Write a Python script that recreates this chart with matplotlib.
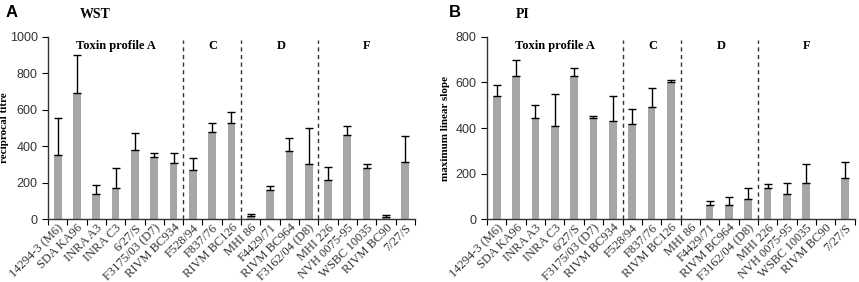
import numpy as np
import matplotlib
matplotlib.use("Agg")
import matplotlib.pyplot as plt

strains = ["14294-3 (M6)", "SDA KA96", "INRA A3", "INRA C3", "6/27/S", "F3175/03 (D7)",
           "RIVM BC934", "F528/94", "F837/76", "RIVM BC126", "MHI 86", "F4429/71",
           "RIVM BC964", "F3162/04 (D8)", "MHI 226", "NVH 0075-95", "WSBC 10035",
           "RIVM BC90", "7/27/S"]

wst_mean = [350, 695, 140, 172, 378, 340, 310, 272, 478, 528, 15, 160, 372, 300, 215, 460, 283, 12, 315]
wst_err = [205, 205, 48, 106, 94, 25, 55, 61, 49, 62, 13, 20, 73, 200, 73, 52, 20, 10, 140]

pi_mean = [542, 627, 442, 410, 627, 442, 433, 419, 494, 600, 0, 63, 63, 87, 136, 111, 160, 0, 182]
pi_err = [45, 70, 57, 138, 38, 12, 109, 66, 80, 12, 0, 18, 33, 49, 19, 49, 81, 0, 68]

group_names = ["Toxin profile A", "C", "D", "F"]
group_centres = [3.0, 8.05, 11.6, 16.0]
group_breaks = [6.5, 9.5, 13.5]

serif = "Liberation Serif"
sans = "Liberation Sans"
bar_col = "#a6a6a6"

fig = plt.figure(figsize=(8.59, 2.82), dpi=100)
ax_a = fig.add_axes([0.0559, 0.223, 0.4271, 0.646])
ax_b = fig.add_axes([0.567, 0.223, 0.428, 0.646])


def draw_panel(ax, means, errs, ymax, ystep, ylabel, label_x):
    x = np.arange(len(strains))
    means = np.array(means, dtype=float)
    errs = np.array(errs, dtype=float)
    ax.bar(x, means, width=0.4, color=bar_col, zorder=2)
    has = errs > 0
    ax.errorbar(x[has], means[has], yerr=[np.zeros(has.sum()), errs[has]], fmt="none",
                ecolor="black", elinewidth=1.0, capsize=3, capthick=1.0, zorder=3)
    ax.set_xlim(-0.5, len(strains) - 0.5)
    ax.set_ylim(0, ymax)
    ax.set_yticks(np.arange(0, ymax + 1, ystep))
    ax.set_xticks(np.arange(-0.5, len(strains) + 0.5, 1), minor=False)
    ax.set_xticklabels([])
    ax.set_xticks(x, minor=True)
    ax.set_xticklabels(strains, minor=True, rotation=45, ha="right",
                       rotation_mode="anchor", fontsize=9, family=serif, color="#333333")
    ax.tick_params(axis="x", which="minor", length=0, pad=2)
    ax.tick_params(axis="x", which="major", length=4, direction="out")
    ax.tick_params(axis="y", length=4, direction="out", labelsize=9, labelcolor="#333333")
    for lab in ax.get_yticklabels():
        lab.set_family(sans)
    for s in ["top", "right"]:
        ax.spines[s].set_visible(False)
    for s in ["left", "bottom"]:
        ax.spines[s].set_linewidth(1.0)
        ax.spines[s].set_color("#333333")
    for b in group_breaks:
        ax.plot([b, b], [0, ymax * 0.985], ls=(0, (3, 2.5)), color="#333333", lw=1.0,
                zorder=1, clip_on=False)
    for name, c in zip(group_names, group_centres):
        ax.text(c, ymax * 0.985, name, ha="center", va="top", fontsize=9,
                family=serif, fontweight="bold")
    ax.set_ylabel(ylabel, fontsize=8, family=serif, fontweight="bold")
    ax.yaxis.set_label_coords(label_x, 0.5)


draw_panel(ax_a, wst_mean, wst_err, 1000, 200, "reciprocal titre", -0.105)
draw_panel(ax_b, pi_mean, pi_err, 800, 200, "maximum linear slope", -0.1)

fig.text(0.007, 0.955, "A", fontsize=12, fontweight="bold", family=sans, va="center")
fig.text(0.093, 0.95, "WST", fontsize=10, fontweight="bold", family=serif, va="center")
fig.text(0.523, 0.955, "B", fontsize=12, fontweight="bold", family=sans, va="center")
fig.text(0.601, 0.95, "PI", fontsize=10, fontweight="bold", family=serif, va="center")

fig.savefig("out.png", dpi=100)
